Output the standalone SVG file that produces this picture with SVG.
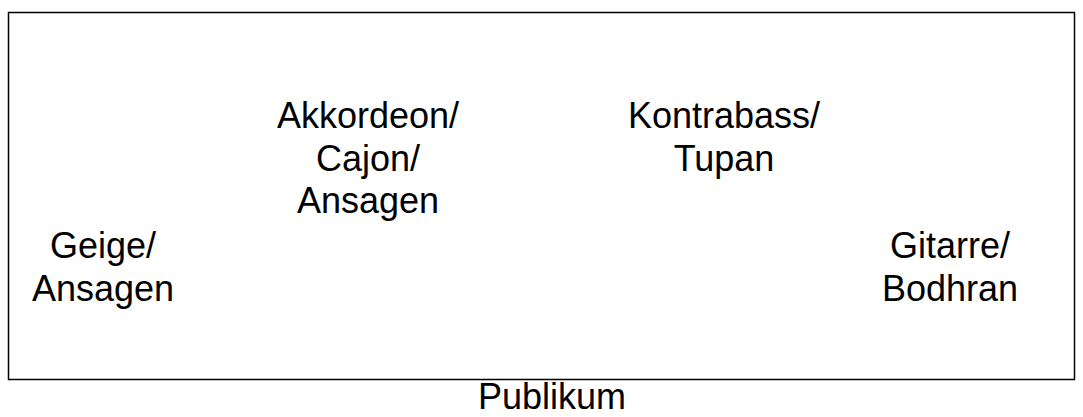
<svg xmlns="http://www.w3.org/2000/svg" width="1083" height="417" viewBox="0 0 1083 417">
<style>
text{font-family:"Liberation Sans",Arial,sans-serif;font-size:36px;fill:#000;text-anchor:middle}
.stage{fill:#fff;stroke:#000;stroke-width:1.5}
</style>
<rect width="1083" height="417" fill="#fff"/>
<g id="stage"><rect class="stage" x="8.5" y="12.5" width="1066" height="367"/></g>
<g id="connectors"></g>
<g id="akkordeon"><text x="368" y="128">Akkordeon/<tspan x="368" dy="42.5">Cajon/</tspan><tspan x="368" dy="42.5">Ansagen</tspan></text></g>
<g id="kontrabass"><text x="724" y="128">Kontrabass/<tspan x="724" dy="42.5">Tupan</tspan></text></g>
<g id="geige"><text x="103" y="258">Geige/<tspan x="103" dy="42.5">Ansagen</tspan></text></g>
<g id="gitarre"><text x="950" y="258">Gitarre/<tspan x="950" dy="42.5">Bodhran</tspan></text></g>
<g id="publikum"><text x="552" y="409">Publikum</text></g>
</svg>
